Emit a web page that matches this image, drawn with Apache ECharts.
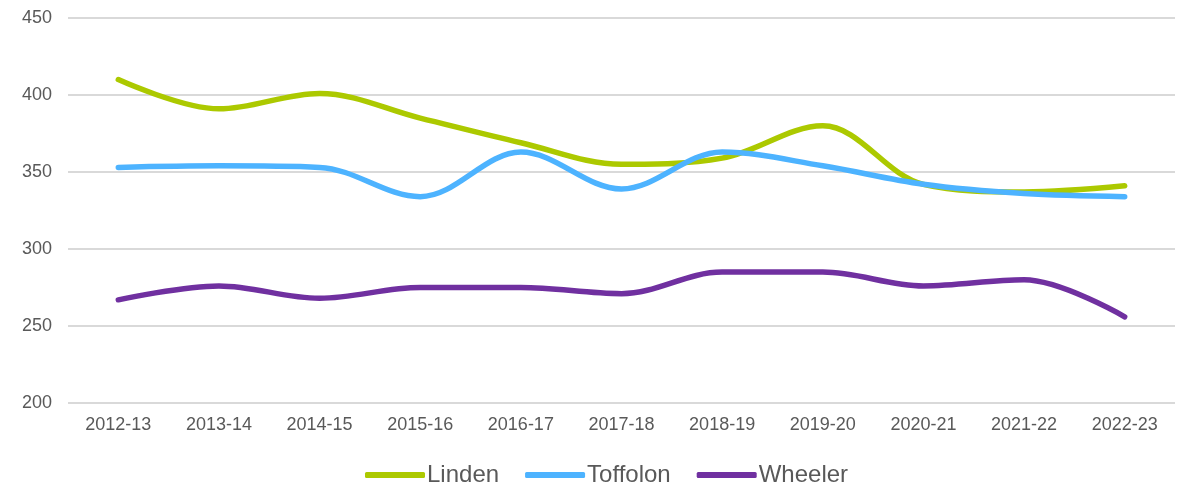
<!DOCTYPE html>
<html>
<head>
<meta charset="utf-8">
<script src="https://cdn.jsdelivr.net/npm/echarts@6/dist/echarts.min.js"></script>
<style>
  html, body { margin: 0; padding: 0; background: #fff; }
  #chart { width: 1181px; height: 484px; }
</style>
</head>
<body>
<div id="chart"></div>
<script>
var years = ['2012-13', '2013-14', '2014-15', '2015-16', '2016-17', '2017-18',
             '2018-19', '2019-20', '2020-21', '2021-22', '2022-23'];
var linden   = [410, 391, 401, 385, 369, 355, 359, 380, 342, 337, 341];
var toffolon = [353, 354, 353, 334, 363, 339, 363, 354, 342, 336, 334];
var wheeler  = [267, 276, 268, 275, 275, 271, 285, 285, 276, 280, 256];
var yTicks = [200, 250, 300, 350, 400, 450];

var chart = echarts.init(document.getElementById('chart'));
var font = 'Liberation Sans, Arial, sans-serif';

function line(name, data, color) {
  return {
    name: name,
    type: 'line',
    data: data,
    smooth: 0.35,
    showSymbol: false,
    symbol: 'none',
    lineStyle: { color: color, width: 5.5, cap: 'round' },
    itemStyle: { color: color }
  };
}

chart.setOption({
  animation: false,
  grid: { left: 68, right: 6, top: 18, bottom: 81 },
  legend: {
    top: 458,
    left: 360,
    itemWidth: 60,
    itemHeight: 6,
    itemGap: 26,
    icon: 'roundRect',
    textStyle: { fontFamily: font, fontSize: 24, color: '#595959', padding: [0, 0, 0, -3] },
    data: ['Linden', 'Toffolon', 'Wheeler']
  },
  xAxis: {
    type: 'category',
    data: years,
    boundaryGap: true,
    axisLine: { show: false },
    axisTick: { show: false },
    axisLabel: { fontFamily: font, fontSize: 18, color: '#595959', margin: 13 }
  },
  yAxis: {
    type: 'value',
    min: yTicks[0],
    max: yTicks[yTicks.length - 1],
    interval: 50,
    axisLine: { show: false },
    axisTick: { show: false },
    axisLabel: { fontFamily: font, fontSize: 18, color: '#595959', margin: 16 },
    splitLine: { lineStyle: { color: '#d9d9d9', width: 2 } }
  },
  series: [
    line('Linden', linden, '#acc900'),
    line('Toffolon', toffolon, '#4db3ff'),
    line('Wheeler', wheeler, '#7030a0')
  ]
});
</script>
</body>
</html>
